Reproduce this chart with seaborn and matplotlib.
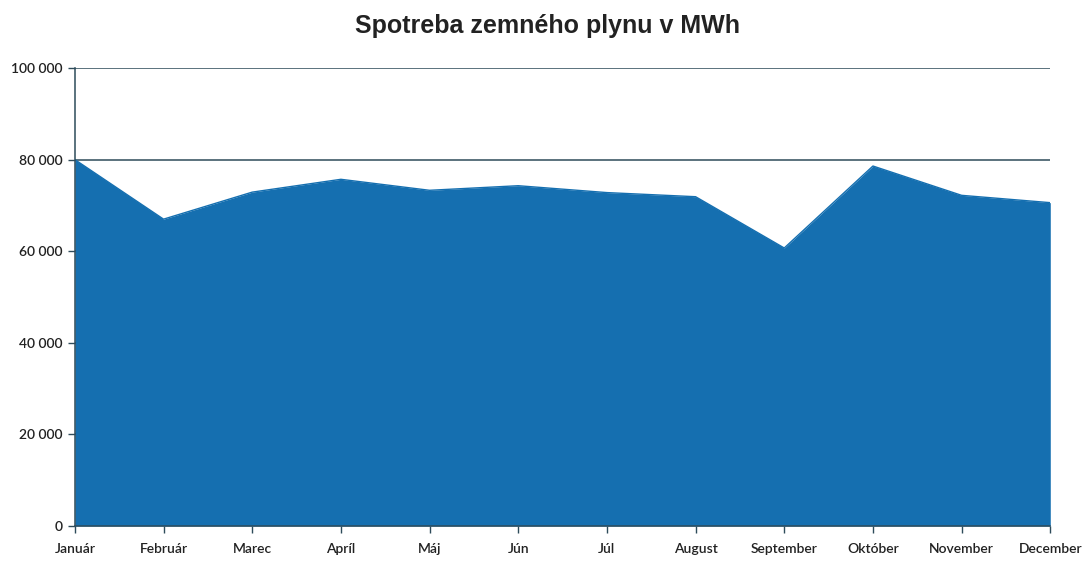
import matplotlib
matplotlib.use("Agg")
import matplotlib.pyplot as plt
import seaborn as sns
import pandas as pd

# monthly gas consumption in MWh
months = ["Január", "Február", "Marec", "Apríl", "Máj", "Jún",
          "Júl", "August", "September", "Október", "November", "December"]
consumption = [80000, 67000, 72900, 75700, 73300, 74300,
               72800, 71900, 60700, 78600, 72200, 70600]
y_ticks = [0, 20000, 40000, 60000, 80000, 100000]

df = pd.DataFrame({"idx": range(len(months)), "mesiac": months, "MWh": consumption})

sns.set_style("white")
plt.rcParams["font.family"] = ["Lato", "DejaVu Sans"]

fig = plt.figure(figsize=(10.85, 5.62), dpi=100)
ax = fig.add_axes([0.069, 0.064, 0.899, 0.815])

# gridlines first so the area covers them
for t in y_ticks[1:]:
    ax.axhline(t, color="#2d4b5a", lw=1.1, zorder=0)

blue = "#156fb0"
ax.fill_between(df["idx"], df["MWh"], color=blue, zorder=1, lw=0)
sns.lineplot(data=df, x="idx", y="MWh", ax=ax, color=blue, lw=1, zorder=2)

ax.set_xlim(0, len(months) - 1)
ax.set_ylim(0, 100000)
ax.set_xticks(range(len(months)))
ax.set_xticklabels(months, fontsize=10, color="#222222", fontweight="semibold")
ax.set_yticks(y_ticks)
ax.set_yticklabels([f"{v:,}".replace(",", " ") for v in y_ticks],
                   fontsize=10, color="#222222", fontweight="semibold")
ax.set_xlabel("")
ax.set_ylabel("")

for s in ["top", "right"]:
    ax.spines[s].set_visible(False)
for s in ["left", "bottom"]:
    ax.spines[s].set_color("#2d4b5a")
    ax.spines[s].set_linewidth(1.1)
    ax.spines[s].set_zorder(3)
ax.tick_params(axis="both", direction="out", length=5, width=1,
               color="#2d4b5a", pad=4, left=True, bottom=True)
ax.tick_params(axis="x", pad=7)

fig.suptitle("Spotreba zemného plynu v MWh", x=0.505, y=0.975,
             fontsize=18, fontweight="bold", color="#222222",
             family=["Liberation Sans", "DejaVu Sans"])

fig.savefig("out.png", dpi=100)
